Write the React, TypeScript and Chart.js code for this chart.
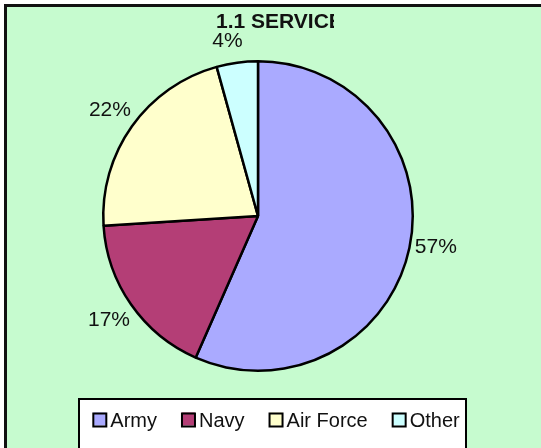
import React, { useEffect, useRef } from "react";
import { Chart, registerables } from "chart.js";

Chart.register(...registerables);

const titleText = "1.1 SERVICES";
const categories = ["Army", "Navy", "Air Force", "Other"];
const shares = [56.6, 17.4, 21.7, 4.3];
const sliceColors = ["#AAAAFF", "#B43E76", "#FFFFCC", "#CCFFFF"];

const FONT = "'Liberation Sans', Arial, sans-serif";

const overlayPlugin = {
  id: "overlay",
  afterDraw(chart: any) {
    const ctx = chart.ctx as CanvasRenderingContext2D;
    const meta = chart.getDatasetMeta(0);
    const data = chart.data.datasets[0].data as number[];
    const total = data.reduce((a, b) => a + b, 0);

    // Title (clipped like the reference)
    ctx.save();
    ctx.beginPath();
    ctx.rect(0, 0, 334, 60);
    ctx.clip();
    ctx.font = `bold 21px ${FONT}`;
    ctx.fillStyle = "#111";
    ctx.textAlign = "left";
    ctx.textBaseline = "alphabetic";
    ctx.fillText(titleText, 216, 28);
    ctx.restore();

    // Percentage labels outside slices
    ctx.save();
    ctx.font = `21px ${FONT}`;
    ctx.fillStyle = "#111";
    ctx.textAlign = "center";
    ctx.textBaseline = "middle";
    meta.data.forEach((arc: any, i: number) => {
      const p = arc.getProps(["x", "y", "startAngle", "endAngle", "outerRadius"], true);
      const mid = (p.startAngle + p.endAngle) / 2;
      const r = p.outerRadius + 27;
      const lx = p.x + Math.cos(mid) * r;
      const ly = p.y + Math.sin(mid) * r;
      const s = Math.sin(mid);
      const dy = s < -0.9 ? 5 : 0;
      ctx.fillText(Math.round((data[i] / total) * 100) + "%", lx - (dy ? 6 : 0), ly + dy - (s > 0 && s < 0.4 ? 6 : 0));
    });
    ctx.restore();

    // Legend box
    ctx.save();
    ctx.fillStyle = "#fff";
    ctx.fillRect(78, 398, 389, 60);
    ctx.strokeStyle = "#000";
    ctx.lineWidth = 2;
    ctx.strokeRect(79, 399, 387, 60);
    ctx.font = `20px ${FONT}`;
    ctx.textBaseline = "middle";
    ctx.textAlign = "left";
    const labels = chart.data.labels as string[];
    const box = 15;
    const gapText = 3;
    const gapItem = 24;
    const widths = labels.map((l) => box + gapText + ctx.measureText(l).width);
    const totalW = widths.reduce((a, b) => a + b, 0) + gapItem * (labels.length - 1);
    let x = 276 - totalW / 2;
    const cy = 420;
    labels.forEach((l, i) => {
      const bg = (chart.data.datasets[0].backgroundColor as string[])[i];
      ctx.fillStyle = bg;
      ctx.fillRect(x + 1, cy - 7.5, box - 2, box - 2);
      ctx.strokeStyle = "#000";
      ctx.lineWidth = 2;
      ctx.strokeRect(x + 1, cy - 6.5, box - 2, box - 2);
      ctx.fillStyle = "#111";
      ctx.fillText(l, x + box + gapText, cy + 1);
      x += widths[i] + gapItem;
    });
    ctx.restore();
  },
};

export default function App() {
  const ref = useRef<HTMLCanvasElement>(null);

  useEffect(() => {
    if (!ref.current) return;
    const chart = new Chart(ref.current, {
      type: "pie",
      data: {
        labels: categories,
        datasets: [
          {
            data: shares,
            backgroundColor: sliceColors,
            borderColor: "#000",
            borderWidth: 2.5,
          },
        ],
      },
      options: {
        animation: false,
        responsive: false,
        rotation: 0,
        layout: { padding: { left: 102, right: 127, top: 60, bottom: 76 } },
        plugins: {
          legend: { display: false },
          title: { display: false },
          tooltip: { enabled: false },
        },
      },
      plugins: [overlayPlugin],
    });
    return () => chart.destroy();
  }, []);

  return (
    <div
      style={{
        position: "fixed",
        left: 0,
        top: 0,
        width: 541,
        height: 448,
        overflow: "hidden",
        background: "#fff",
      }}
    >
      <div
        style={{
          position: "absolute",
          left: 4,
          top: 4,
          width: 620,
          height: 520,
          background: "#C6FBCF",
          borderLeft: "3px solid #111",
          borderTop: "3px solid #111",
        }}
      />
      <canvas
        ref={ref}
        width={541}
        height={448}
        style={{ position: "absolute", left: 0, top: 0 }}
      />
    </div>
  );
}
